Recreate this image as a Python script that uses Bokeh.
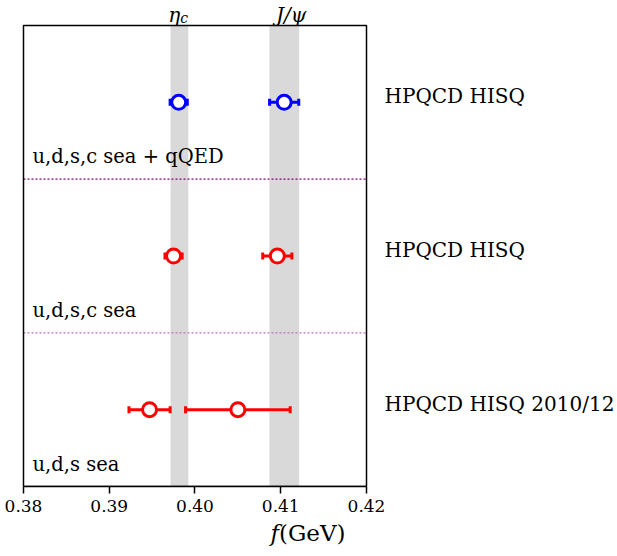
from bokeh.plotting import figure
from bokeh.models import FixedTicker
from bokeh.core.properties import value
from bokeh.embed import file_html
from bokeh.resources import INLINE

# ---- data ----
rows = [2, 1, 0]                       # top to bottom
row_labels = ["u,d,s,c sea + qQED", "u,d,s,c sea", "u,d,s sea"]
collab_labels = ["HPQCD HISQ", "HPQCD HISQ", "HPQCD HISQ 2010/12"]
row_colors = ["#0000ff", "#ff0000", "#ff0000"]
f_etac = [0.3981, 0.3975, 0.3947]
f_etac_err = [0.0010, 0.0010, 0.0024]
f_jpsi = [0.4104, 0.4096, 0.4050]
f_jpsi_err = [0.0017, 0.0017, 0.0061]
band_etac = (0.39714, 0.39922)
band_jpsi = (0.40868, 0.41215)
x_ticks = [0.38, 0.39, 0.40, 0.41, 0.42]
y_lim = (-0.5, 2.5)
separators = [1.5, 0.5]
separator_colors = ["#800080", "#c070c0"]

FONT = "DejaVu Serif"
W, H = 615, 554

p = figure(width=W, height=H, x_range=(0.377318, 0.449038), y_range=(-0.5, 2.6626),
           output_backend="svg", toolbar_location=None,
           min_border_left=0, min_border_right=0, min_border_top=0, min_border_bottom=68)
p.grid.visible = False
p.yaxis.visible = False
p.outline_line_color = None
p.background_fill_color = "white"
p.border_fill_color = "white"

ax = p.xaxis[0]
ax.bounds = (x_ticks[0], x_ticks[-1])
ax.ticker = FixedTicker(ticks=x_ticks)
ax.major_label_overrides = {t: f"{t:.2f}" for t in x_ticks}
ax.major_tick_out = 7
ax.major_tick_in = 0
ax.minor_tick_out = 0
ax.minor_tick_in = 0
ax.major_tick_line_width = 1.5
ax.axis_line_width = 1.5
ax.major_label_text_font = FONT
ax.major_label_text_font_size = "17px"
ax.major_label_text_color = "black"
ax.major_label_standoff = 6
ax.axis_label = "\U0001D453(GeV)"
ax.axis_label_text_font = FONT
ax.axis_label_text_font_style = "normal"
ax.axis_label_text_font_size = "23px"
ax.axis_label_standoff = 5
ax.axis_label_text_color = "black"

# bands
for lo, hi in (band_etac, band_jpsi):
    p.quad(left=lo, right=hi, bottom=y_lim[0], top=y_lim[1], fill_color="#d9d9d9",
           line_alpha=0)

# separators
for yv, c in zip(separators, separator_colors):
    p.segment(x0=x_ticks[0], x1=x_ticks[-1], y0=yv, y1=yv, line_color=c, line_width=1.2,
              line_dash="2 2")

# frame box
p.quad(left=x_ticks[0], right=x_ticks[-1], bottom=y_lim[0], top=y_lim[1],
       fill_alpha=0, line_color="black", line_width=1.5)

# data points with error bars
for vals, errs in ((f_etac, f_etac_err), (f_jpsi, f_jpsi_err)):
    lo = [v - e for v, e in zip(vals, errs)]
    hi = [v + e for v, e in zip(vals, errs)]
    p.segment(x0=lo, x1=hi, y0=rows, y1=rows, line_color=row_colors, line_width=3)
    p.rect(x=lo + hi, y=rows + rows, width=3, height=7, width_units="screen",
           height_units="screen", fill_color=row_colors + row_colors, line_alpha=0)
    p.scatter(x=vals, y=rows, size=14, marker="circle", fill_color="white",
              line_color=row_colors, line_width=3)

# row labels (inside)
p.text(x=[0.38105] * 3, y=[r - 0.355 for r in rows], text=row_labels,
       text_font=value(FONT), text_font_size="19.5px", text_baseline="middle",
       text_color="black")

# collaboration labels (right of frame)
p.text(x=[0.4221] * 3, y=[r + 0.04 for r in rows], text=collab_labels,
       text_font=value(FONT), text_font_size="20px", text_baseline="middle",
       text_color="black")

# band labels above frame
etac_c = 0.5 * (band_etac[0] + band_etac[1])
jpsi_c = 0.5 * (band_jpsi[0] + band_jpsi[1])
p.text(x=[etac_c + 0.0001], y=[y_lim[1] + 0.068], text=["\u03b7"],
       text_font=value(FONT), text_font_style="italic", text_font_size="20px",
       text_align="right", text_baseline="middle", text_color="black")
p.text(x=[etac_c + 0.0001], y=[y_lim[1] + 0.05], text=["c"],
       text_font=value(FONT), text_font_style="italic", text_font_size="14px",
       text_align="left", text_baseline="middle", text_color="black")
p.text(x=[jpsi_c + 0.0008], y=[y_lim[1] + 0.068], text=["J/\u03c8"],
       text_font=value(FONT), text_font_style="italic", text_font_size="20px",
       text_align="center", text_baseline="middle", text_color="black")

open("out.html", "w").write(file_html(p, INLINE))
